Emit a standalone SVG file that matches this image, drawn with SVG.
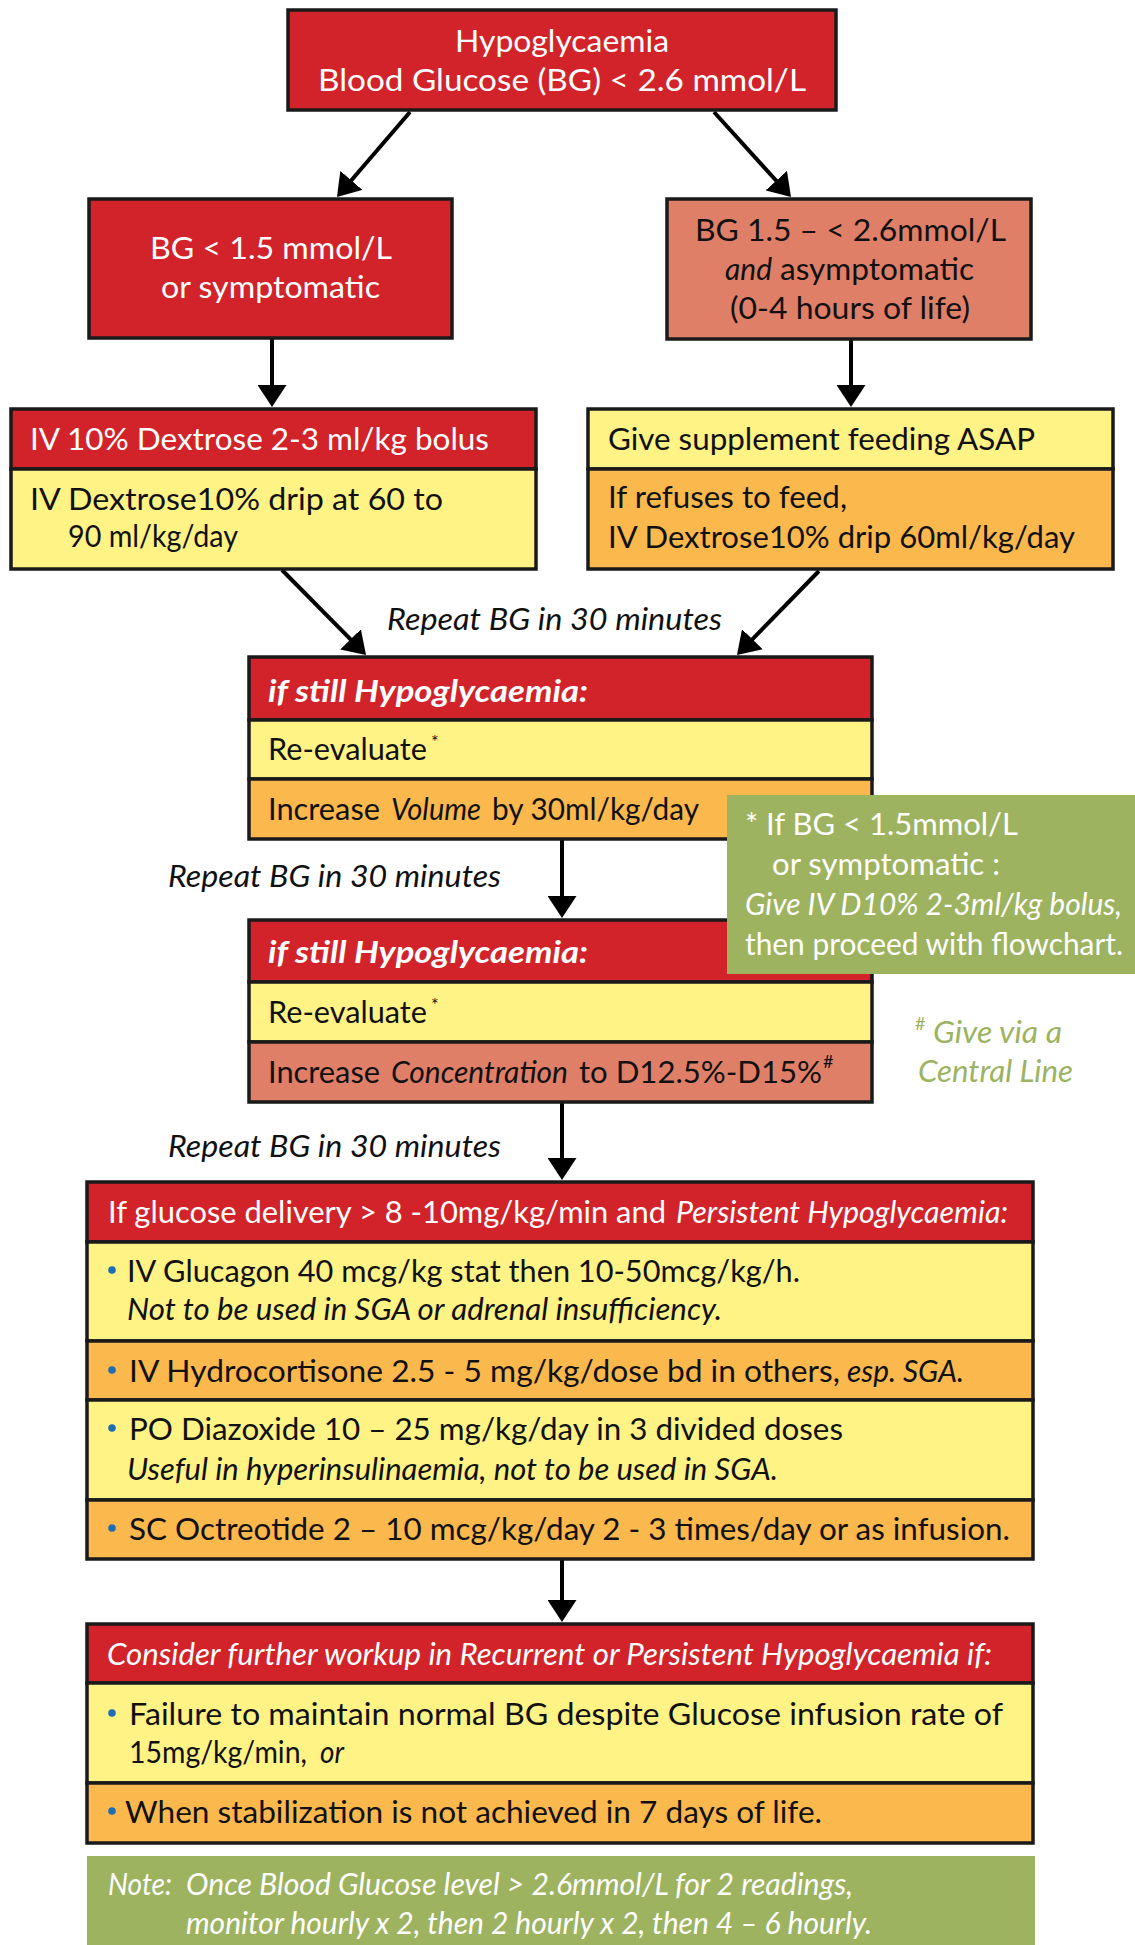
<svg xmlns="http://www.w3.org/2000/svg" width="1135" height="1945" viewBox="0 0 1135 1945">
<defs>
<marker id="ah" markerUnits="userSpaceOnUse" markerWidth="22" markerHeight="29" refX="18" refY="14.5" orient="auto">
<path d="M0,0 L22,14.5 L0,29 z" fill="#000"/>
</marker>
<style>
.t{font-family:Lato,"Open Sans","Liberation Sans",sans-serif;font-size:31px}
.w{fill:#fff}.k{fill:#111}.i{font-style:italic}.b{font-weight:bold}
.g{fill:#9cb35f}
.red{fill:#d2232a}.sal{fill:#e07f68}.yel{fill:#fff385}.org{fill:#fbb84d}.grn{fill:#9db360}
.bx{stroke:#1a1a1a;stroke-width:3.5}
.ln{stroke:#000;stroke-width:4;fill:none;marker-end:url(#ah)}
.dot{fill:#1f6db3}
.sup{font-size:18px}
</style>
</defs>
<rect width="1135" height="1945" fill="#fff"/>

<g id="connectors">
<line class="ln" x1="410" y1="112" x2="339.6" y2="194"/>
<line class="ln" x1="714" y1="112" x2="788.3" y2="194"/>
<line class="ln" x1="272" y1="338" x2="272" y2="403"/>
<line class="ln" x1="851" y1="339" x2="851" y2="403"/>
<line class="ln" x1="282" y1="570" x2="363.2" y2="652.2"/>
<line class="ln" x1="819" y1="571" x2="739.8" y2="652.1"/>
<line class="ln" x1="562" y1="839" x2="562" y2="914"/>
<line class="ln" x1="562" y1="1102" x2="562" y2="1176"/>
<line class="ln" x1="562" y1="1559" x2="562" y2="1618"/>
<text class="t k i" x="387" y="630" textLength="335" lengthAdjust="spacingAndGlyphs">Repeat BG in 30 minutes</text>
<text class="t k i" x="168" y="887" textLength="333" lengthAdjust="spacingAndGlyphs">Repeat BG in 30 minutes</text>
<text class="t k i" x="168" y="1157" textLength="333" lengthAdjust="spacingAndGlyphs">Repeat BG in 30 minutes</text>
</g>

<g id="n-top">
<rect class="bx red" x="288" y="10" width="548" height="100"/>
<text class="t w" x="455" y="52" textLength="214" lengthAdjust="spacingAndGlyphs">Hypoglycaemia</text>
<text class="t w" x="318" y="91" textLength="488" lengthAdjust="spacingAndGlyphs">Blood Glucose (BG) &lt; 2.6 mmol/L</text>
</g>

<g id="n-left2">
<rect class="bx red" x="89" y="199" width="363" height="139"/>
<text class="t w" x="150" y="259" textLength="242" lengthAdjust="spacingAndGlyphs">BG &lt; 1.5 mmol/L</text>
<text class="t w" x="161" y="298" textLength="219" lengthAdjust="spacingAndGlyphs">or symptomatic</text>
</g>

<g id="n-right2">
<rect class="bx sal" x="667" y="199" width="364" height="140"/>
<text class="t k" x="695" y="241" textLength="311" lengthAdjust="spacingAndGlyphs">BG 1.5 – &lt; 2.6mmol/L</text>
<text class="t k i" x="725" y="280" textLength="47" lengthAdjust="spacingAndGlyphs">and</text>
<text class="t k" x="780" y="280" textLength="194" lengthAdjust="spacingAndGlyphs">asymptomatic</text>
<text class="t k" x="730" y="319" textLength="240" lengthAdjust="spacingAndGlyphs">(0-4 hours of life)</text>
</g>

<g id="n-left3">
<rect class="bx red" x="11" y="409" width="525" height="60"/>
<rect class="bx yel" x="11" y="469" width="525" height="100"/>
<text class="t w" x="30" y="450" textLength="459" lengthAdjust="spacingAndGlyphs">IV 10% Dextrose 2-3 ml/kg bolus</text>
<text class="t k" x="30" y="510" textLength="413" lengthAdjust="spacingAndGlyphs">IV Dextrose10% drip at 60 to</text>
<text class="t k" x="68" y="547" textLength="170" lengthAdjust="spacingAndGlyphs">90 ml/kg/day</text>
</g>

<g id="n-right3">
<rect class="bx yel" x="588" y="409" width="525" height="60"/>
<rect class="bx org" x="588" y="469" width="525" height="100"/>
<text class="t k" x="608" y="450" textLength="427" lengthAdjust="spacingAndGlyphs">Give supplement feeding ASAP</text>
<text class="t k" x="608" y="508" textLength="239" lengthAdjust="spacingAndGlyphs">If refuses to feed,</text>
<text class="t k" x="608" y="548" textLength="467" lengthAdjust="spacingAndGlyphs">IV Dextrose10% drip 60ml/kg/day</text>
</g>

<g id="n-step1">
<rect class="bx red" x="249" y="657" width="623" height="63"/>
<rect class="bx yel" x="249" y="720" width="623" height="59"/>
<rect class="bx org" x="249" y="779" width="623" height="60"/>
<text class="t w i b" x="268" y="702" textLength="320" lengthAdjust="spacingAndGlyphs">if still Hypoglycaemia:</text>
<text class="t k" x="268" y="760" textLength="159" lengthAdjust="spacingAndGlyphs">Re-evaluate</text>
<text class="t k sup" x="431" y="748" fill="#444">*</text>
<text class="t k" x="268" y="820" textLength="112" lengthAdjust="spacingAndGlyphs">Increase</text>
<text class="t k i" x="391" y="820" textLength="90" lengthAdjust="spacingAndGlyphs">Volume</text>
<text class="t k" x="492" y="820" textLength="207" lengthAdjust="spacingAndGlyphs">by 30ml/kg/day</text>
</g>

<g id="n-step2">
<rect class="bx red" x="249" y="920" width="623" height="62"/>
<rect class="bx yel" x="249" y="982" width="623" height="60"/>
<rect class="bx sal" x="249" y="1042" width="623" height="60"/>
<text class="t w i b" x="268" y="963" textLength="320" lengthAdjust="spacingAndGlyphs">if still Hypoglycaemia:</text>
<text class="t k" x="268" y="1023" textLength="159" lengthAdjust="spacingAndGlyphs">Re-evaluate</text>
<text class="t k sup" x="431" y="1011" fill="#444">*</text>
<text class="t k" x="268" y="1083" textLength="112" lengthAdjust="spacingAndGlyphs">Increase</text>
<text class="t k i" x="391" y="1083" textLength="177" lengthAdjust="spacingAndGlyphs">Concentration</text>
<text class="t k" x="579" y="1083" textLength="243" lengthAdjust="spacingAndGlyphs">to D12.5%-D15%</text>
<text class="t k sup" x="823" y="1068">#</text>
</g>

<g id="n-note-star">
<rect class="grn" x="727" y="795" width="408" height="179"/>
<text class="t w" x="745" y="835" textLength="273" lengthAdjust="spacingAndGlyphs">* If BG &lt; 1.5mmol/L</text>
<text class="t w" x="772" y="875" textLength="228" lengthAdjust="spacingAndGlyphs">or symptomatic :</text>
<text class="t w i" x="745" y="915" textLength="377" lengthAdjust="spacingAndGlyphs">Give IV D10% 2-3ml/kg bolus,</text>
<text class="t w" x="745" y="955" textLength="378" lengthAdjust="spacingAndGlyphs">then proceed with flowchart.</text>
</g>

<g id="n-note-hash">
<text class="t g sup" x="915" y="1030">#</text>
<text class="t g i" x="933" y="1043" textLength="129" lengthAdjust="spacingAndGlyphs">Give via a</text>
<text class="t g i" x="918" y="1082" textLength="155" lengthAdjust="spacingAndGlyphs">Central Line</text>
</g>

<g id="n-persistent">
<rect class="bx red" x="87" y="1182" width="946" height="60"/>
<rect class="bx yel" x="87" y="1242" width="946" height="99"/>
<rect class="bx org" x="87" y="1341" width="946" height="59"/>
<rect class="bx yel" x="87" y="1400" width="946" height="100"/>
<rect class="bx org" x="87" y="1500" width="946" height="59"/>
<text class="t w" x="108" y="1223" textLength="558" lengthAdjust="spacingAndGlyphs">If glucose delivery &gt; 8 -10mg/kg/min and</text>
<text class="t w i" x="676" y="1223" textLength="332" lengthAdjust="spacingAndGlyphs">Persistent Hypoglycaemia:</text>
<circle class="dot" cx="112" cy="1270" r="3.8"/>
<text class="t k" x="127" y="1282" textLength="673" lengthAdjust="spacingAndGlyphs">IV Glucagon 40 mcg/kg stat then 10-50mcg/kg/h.</text>
<text class="t k i" x="127" y="1320" textLength="595" lengthAdjust="spacingAndGlyphs">Not to be used in SGA or adrenal insufficiency.</text>
<circle class="dot" cx="112" cy="1370" r="3.8"/>
<text class="t k" x="129" y="1382" textLength="711" lengthAdjust="spacingAndGlyphs">IV Hydrocortisone 2.5 - 5 mg/kg/dose bd in others,</text>
<text class="t k i" x="847" y="1382" textLength="117" lengthAdjust="spacingAndGlyphs">esp. SGA.</text>
<circle class="dot" cx="112" cy="1428" r="3.8"/>
<text class="t k" x="129" y="1440" textLength="714" lengthAdjust="spacingAndGlyphs">PO Diazoxide 10 – 25 mg/kg/day in 3 divided doses</text>
<text class="t k i" x="127" y="1480" textLength="651" lengthAdjust="spacingAndGlyphs">Useful in hyperinsulinaemia, not to be used in SGA.</text>
<circle class="dot" cx="112" cy="1528" r="3.8"/>
<text class="t k" x="129" y="1540" textLength="881" lengthAdjust="spacingAndGlyphs">SC Octreotide 2 – 10 mcg/kg/day 2 - 3 times/day or as infusion.</text>
</g>

<g id="n-workup">
<rect class="bx red" x="87" y="1624" width="946" height="59"/>
<rect class="bx yel" x="87" y="1683" width="946" height="100"/>
<rect class="bx org" x="87" y="1783" width="946" height="60"/>
<text class="t w i" x="107" y="1665" textLength="885" lengthAdjust="spacingAndGlyphs">Consider further workup in Recurrent or Persistent Hypoglycaemia if:</text>
<circle class="dot" cx="112" cy="1713" r="3.8"/>
<text class="t k" x="129" y="1725" textLength="874" lengthAdjust="spacingAndGlyphs">Failure to maintain normal BG despite Glucose infusion rate of</text>
<text class="t k" x="129" y="1763" textLength="178" lengthAdjust="spacingAndGlyphs">15mg/kg/min,</text>
<text class="t k i" x="320" y="1763" textLength="24" lengthAdjust="spacingAndGlyphs">or</text>
<circle class="dot" cx="112" cy="1811" r="3.8"/>
<text class="t k" x="125" y="1823" textLength="697" lengthAdjust="spacingAndGlyphs">When stabilization is not achieved in 7 days of life.</text>
</g>

<g id="n-note-bottom">
<rect class="grn" x="87" y="1856" width="948" height="89"/>
<text class="t w i" x="108" y="1895" textLength="64" lengthAdjust="spacingAndGlyphs">Note:</text>
<text class="t w i" x="186" y="1895" textLength="667" lengthAdjust="spacingAndGlyphs">Once Blood Glucose level &gt; 2.6mmol/L for 2 readings,</text>
<text class="t w i" x="186" y="1934" textLength="686" lengthAdjust="spacingAndGlyphs">monitor hourly x 2, then 2 hourly x 2, then 4 – 6 hourly.</text>
</g>
</svg>
